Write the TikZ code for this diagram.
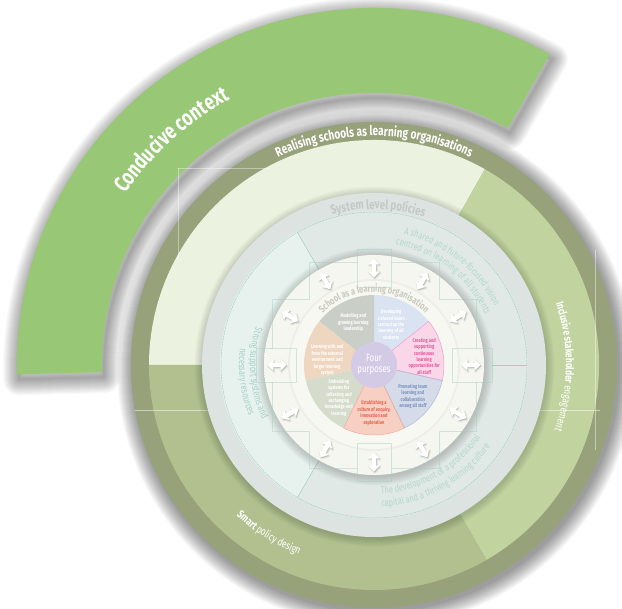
\documentclass[tikz,border=0pt]{standalone}
\usepackage{fontspec}
\setmainfont{Fira Sans}
\newfontfamily\cond[FakeStretch=0.75]{Fira Sans}
\usetikzlibrary{calc,decorations.text}

\definecolor{arcgreen}{HTML}{98C776}
\definecolor{darkring}{HTML}{97A17A}
\definecolor{palegreen}{HTML}{EBF2E0}
\definecolor{lightgreen}{HTML}{C1D4A0}
\definecolor{olive}{HTML}{B1C08E}
\definecolor{diskright}{HTML}{E1E9E6}
\definecolor{diskleft}{HTML}{E7F2EF}
\definecolor{tealline}{HTML}{9FD0C3}
\definecolor{ringin}{HTML}{DCE3E0}
\definecolor{ringmid}{HTML}{C7CECB}
\definecolor{ringedge}{HTML}{D5DAD8}
\definecolor{whiteA}{HTML}{F5F6EF}
\definecolor{whiteB}{HTML}{E6E9E1}
\definecolor{whiteC}{HTML}{F8F8F2}
\definecolor{sysgray}{HTML}{C2C9C6}
\definecolor{schoolgray}{HTML}{CACAC1}
\definecolor{tealtxt}{HTML}{B5D7CE}
\definecolor{tealtxtB}{HTML}{A6D2C6}
\definecolor{pModel}{HTML}{C9CFC6}
\definecolor{pDev}{HTML}{D9E3F1}
\definecolor{pCreate}{HTML}{F9D6E8}
\definecolor{pCreateB}{HTML}{EEA3CC}
\definecolor{pCreateT}{HTML}{E25A9E}
\definecolor{pProm}{HTML}{D5DBE8}
\definecolor{pPromB}{HTML}{AEBBD7}
\definecolor{pPromT}{HTML}{7894C2}
\definecolor{pEst}{HTML}{F7D0C3}
\definecolor{pEstB}{HTML}{F0AC9F}
\definecolor{pEstT}{HTML}{E4654F}
\definecolor{pEmb}{HTML}{D5DCCB}
\definecolor{pLearn}{HTML}{EFD6C0}
\definecolor{purpdisk}{HTML}{D3CBE5}

\pgfdeclareradialshading{grayring}{\pgfpointorigin}{color(0bp)=(ringin); color(45bp)=(ringin); color(48bp)=(ringmid); color(50bp)=(ringedge)}
\pgfdeclareradialshading{whitering}{\pgfpointorigin}{color(0bp)=(whiteA); color(40bp)=(whiteA); color(46bp)=(whiteA); color(50bp)=(whiteB)}

\newcommand\ctxt[2]{\cond\bfseries\fontsize{#1}{#2}\selectfont}
\newcommand\ltxt[2]{\cond\mdseries\fontsize{#1}{#2}\selectfont}

\begin{document}
\begin{tikzpicture}[x=1pt,y=1pt,
  pietext/.style={font=\ctxt{5.3}{6.4}, align=center, inner sep=0pt},
  arrowshape/.style={insert path={(9.5,0) -- (3.6,5.6) -- (3.6,2.1) -- (-3.6,2.1) -- (-3.6,5.6) -- (-9.5,0)
     -- (-3.6,-5.6) -- (-3.6,-2.1) -- (3.6,-2.1) -- (3.6,-5.6) -- cycle}},
  faint/.style={draw=tealline, line width=0.5pt, opacity=0.45}
]
\useasboundingbox (0,0) rectangle (622,609);
\fill[white] (0,0) rectangle (622,609);
\coordinate (C) at (374,244);

\begin{scope}[shift={(374,244)}]
% ---------- Conducive context arc ----------
\begin{scope}[shift={(2,-5)}]
\foreach \i in {1,...,16}{
  \draw[black, opacity=0.024, line width=2*\i, line join=round]
   (60.5:357) arc (60.5:181.5:357) -- (181.5:272) arc (181.5:60.5:272) -- cycle;
}
\end{scope}
\fill[arcgreen] (60.5:357) arc (60.5:181.5:357) -- (181.5:272) arc (181.5:60.5:272) -- cycle;
\path[decorate, decoration={text along path, text align=center,
  text={|\ctxt{22.5}{22.5}\color{white}|Conducive context}}] (172:302) arc (172:92:302);

% ---------- main disc shadow ----------
\begin{scope}[shift={(2,-3)}]
\foreach \i in {1,...,16}{ \fill[black, opacity=0.028] (0,0) circle (243+\i); }
\end{scope}

% ---------- outer dark ring ----------
\fill[darkring] (0,0) circle (243);
\path[decorate, decoration={text along path, text align=center,
  text={|\ctxt{13.4}{13.4}\color{white}|Realising schools as learning organisations}}] (150:229) arc (150:30:229);

% ---------- three band sectors ----------
\fill[palegreen] (0,0) -- (60.5:225) arc (60.5:180:225) -- cycle;
\fill[lightgreen] (0,0) -- (-60:225) arc (-60:60.5:225) -- cycle;
\fill[olive] (0,0) -- (180:225) arc (180:300:225) -- cycle;

\path[decorate, decoration={text along path, text align=center,
  text={|\ctxt{11}{11}\color{white}|Inclusive stakeholder |\ltxt{11}{11}\color{white}|engagement}}] (40:192) arc (40:-41:192);
\path[decorate, decoration={text along path, text align=center,
  text={|\ctxt{11}{11}\color{white}|Smart |\ltxt{11}{11}\color{white}|policy design}}] (208:204) arc (208:268:204);

% faint artefact lines
\draw[white, opacity=0.5, line width=0.6pt] (-239,-45) -- (226,-45);
\draw[white, opacity=0.45, line width=0.6pt] (221,115) -- (221,-85);
\draw[white, opacity=0.4, line width=0.6pt] (-196,197) -- (-196,105);
\draw[white, opacity=0.4, line width=0.6pt] (-196,197) -- (-104,197);

% ---------- grey bevel ring: system level policies ----------
\foreach \i in {1,...,8}{ \fill[black, opacity=0.02] (0.5,-1.5) circle (172+\i); }
\shade[shading=grayring] (0,0) circle (172);
\fill[diskright] (0,0) circle (154);
\fill[diskleft] (0,0) -- (120:154) arc (120:240:154) -- cycle;
\draw[tealline, line width=0.5pt, dash pattern=on 2pt off 0.8pt] (0,0) circle (153);
\draw[tealline, line width=0.5pt] (120:106) -- (120:153);
\draw[tealline, line width=0.5pt] (240:106) -- (240:153);
\draw[tealline, line width=0.5pt] (0:118) -- (0:153);

\path[decorate, decoration={text along path, text align=center,
  text={|\ctxt{13}{13}\color{sysgray}|System level policies}}] (125:156) arc (125:52:156);

\path[decorate, decoration={text along path, text align=center,
  text={|\ltxt{10}{10}\color{tealtxt}|A shared and future-focused vision}}] (100:134) arc (100:3:134);
\path[decorate, decoration={text along path, text align=center,
  text={|\ltxt{10}{10}\color{tealtxt}|centred on learning of all students}}] (104:122) arc (104:0:122);
\path[decorate, decoration={text along path, text align=center,
  text={|\ltxt{10}{10}\color{tealtxt}|The development of a professional}}] (-112:129) arc (-112:-9:129);
\path[decorate, decoration={text along path, text align=center,
  text={|\ltxt{10}{10}\color{tealtxt}|capital and a thriving learning culture}}] (-112:142) arc (-112:-10:142);
\path[decorate, decoration={text along path, text align=center,
  text={|\ltxt{10}{10}\color{tealtxtB}|Strong support systems and}}] (150:124) arc (150:218:124);
\path[decorate, decoration={text along path, text align=center,
  text={|\ltxt{10}{10}\color{tealtxtB}|necessary resources}}] (153:135) arc (153:222:135);

% ---------- white ring with arrows ----------
\foreach \i in {1,...,9}{ \fill[black, opacity=0.018] (0.5,-1.5) circle (110+\i); }
\shade[shading=whitering] (0,0) circle (110);
\fill[black, opacity=0.03] (0,0) circle (86);
\fill[whiteC] (0,0) circle (84);

% faint stepped outline
\draw[faint] (17,116) -- (17,103) -- (65,103) -- (65,66) -- (102,66) -- (102,17) -- (118,17)
  -- (118,-17) -- (102,-17) -- (102,-66) -- (65,-66) -- (65,-103) -- (17,-103) -- (17,-116)
  -- (-17,-116) -- (-17,-103) -- (-65,-103) -- (-65,-66) -- (-102,-66) -- (-102,-17) -- (-118,-17)
  -- (-118,17) -- (-102,17) -- (-102,66) -- (-65,66) -- (-65,103) -- (-17,103) -- (-17,116) -- cycle;
\draw[faint] (-17,103) -- (-17,78) -- (17,78) -- (17,103);
\draw[faint] (-17,-103) -- (-17,-78) -- (17,-78) -- (17,-103);
\draw[faint] (103,-17) -- (78,-17) -- (78,17) -- (103,17);
\draw[faint] (-103,-17) -- (-78,-17) -- (-78,17) -- (-103,17);

\path[decorate, decoration={text along path, text align=center,
  text={|\ctxt{10}{10}\color{schoolgray}|School as a learning organisation}}] (160:73) arc (160:20:73);

% ---------- pie of seven dimensions ----------
\fill[pDev] (0,0) -- (38.57:70) arc (38.57:90:70) -- cycle;
\fill[pModel] (0,0) -- (90:70) arc (90:141.43:70) -- cycle;
\fill[pLearn] (0,0) -- (141.43:70) arc (141.43:192.86:70) -- cycle;
\fill[pEmb] (0,0) -- (192.86:70) arc (192.86:244.29:70) -- cycle;
\fill[pEst] (0,0) -- (244.29:70) arc (244.29:295.71:70) -- cycle;
\fill[pProm] (0,0) -- (295.71:70) arc (295.71:347.14:70) -- cycle;
\fill[pCreate] (0,0) -- (-12.86:70) arc (-12.86:38.57:70) -- cycle;
\draw[pCreateB, line width=0.5pt] (0,0) -- (-12.86:70) arc (-12.86:38.57:70) -- cycle;
\draw[pPromB, line width=0.5pt] (0,0) -- (295.71:70) arc (295.71:347.14:70) -- cycle;
\draw[pEstB, line width=0.5pt] (0,0) -- (244.29:70) arc (244.29:295.71:70) -- cycle;

\node[pietext, text=white] (dModel) at (116:47) {Modelling and\\growing learning\\leadership};
\node[pietext, text=white] (dDev) at (67:44) {Developing\\a shared vision\\centred on the\\learning of all\\students};
\node[pietext, text=pCreateT] (dCreate) at (10:51) {Creating and\\supporting\\continuous\\learning\\opportunities for\\all staff};
\node[pietext, text=pPromT] (dProm) at (-39:50) {Promoting team\\learning and\\collaboration\\among all staff};
\node[pietext, text=pEstT] (dEst) at (-90:48) {Establishing a\\culture of enquiry,\\innovation and\\exploration};
\node[pietext, text=white] (dEmb) at (-137:48) {Embedding\\systems for\\collecting and\\exchanging\\knowledge and\\learning};
\node[pietext, text=white] (dLearn) at (174:47) {Learning with and\\from the external\\environment and\\larger learning\\system};

\fill[purpdisk] (0,0) circle (23);
\node[font=\ltxt{10.5}{11}, text=white, align=center, inner sep=0pt] (four) at (0,0) {Four\\purposes};

% ---------- double-headed arrows ----------
\foreach \a in {0,30,...,330}{
  \begin{scope}[shift={(\a:97)}, shift={(0.8,-1.1)}, rotate=\a]
    \draw[black, opacity=0.06, line width=2.4pt, line join=round, arrowshape];
    \fill[black, opacity=0.16, arrowshape];
  \end{scope}
  \begin{scope}[shift={(\a:97)}, rotate=\a]
    \fill[white, arrowshape];
  \end{scope}
}
\end{scope}
\end{tikzpicture}
\end{document}
